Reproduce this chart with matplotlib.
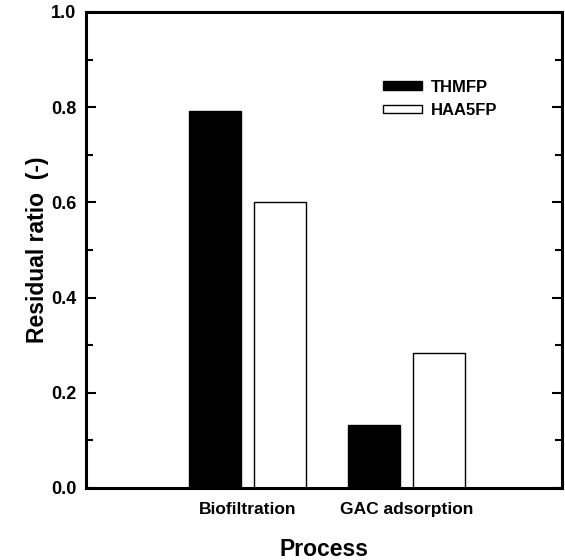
import matplotlib
matplotlib.use("Agg")
import matplotlib.pyplot as plt
from matplotlib.ticker import MultipleLocator
import numpy as np

plt.rcParams['font.family'] = ['Liberation Sans', 'DejaVu Sans']
plt.rcParams['font.weight'] = 'bold'

categories = ["Biofiltration", "GAC adsorption"]
series_names = ["THMFP", "HAA5FP"]
thmfp = [0.792, 0.132]
haa5fp = [0.601, 0.284]

fig = plt.figure(figsize=(5.65, 5.6), dpi=100)
ax = fig.add_axes([0.152, 0.1286, 0.843, 0.85])

x = np.arange(1, len(categories) + 1)
w = 0.33
off = 0.204
ax.bar(x - off, thmfp, w, color='black', edgecolor='black', linewidth=1, label=series_names[0])
ax.bar(x + off, haa5fp, w, color='white', edgecolor='black', linewidth=1, label=series_names[1])

ax.set_xlim(-0.019, 2.981)
ax.set_ylim(0, 1.0)
ax.set_xticks(x)
ax.set_xticklabels(categories, fontsize=12.5, fontweight='bold')
ax.tick_params(axis='x', length=0, pad=10)
ax.yaxis.set_major_locator(MultipleLocator(0.2))
ax.yaxis.set_minor_locator(MultipleLocator(0.1))
ax.tick_params(axis='y', which='both', direction='in', right=True, width=1.5,
               labelsize=13, pad=7)
ax.tick_params(axis='y', which='major', length=7)
ax.tick_params(axis='y', which='minor', length=5)
for lab in ax.get_yticklabels():
    lab.set_fontweight('bold')
for s in ax.spines.values():
    s.set_linewidth(2.2)

ax.set_ylabel("Residual ratio  (-)", fontsize=16.5, fontweight='bold')
ax.yaxis.set_label_coords(-0.078, 0.5)
ax.set_xlabel("Process", fontsize=16.5, fontweight='bold')
ax.xaxis.set_label_coords(0.5, -0.106)

leg = ax.legend(loc='upper left', bbox_to_anchor=(0.61, 0.872), borderaxespad=0,
                frameon=False, handlelength=2.35, handleheight=0.4, fontsize=12,
                labelspacing=0.5, handletextpad=0.5)
for t in leg.get_texts():
    t.set_fontweight('bold')

fig.savefig("out.png", dpi=100)
